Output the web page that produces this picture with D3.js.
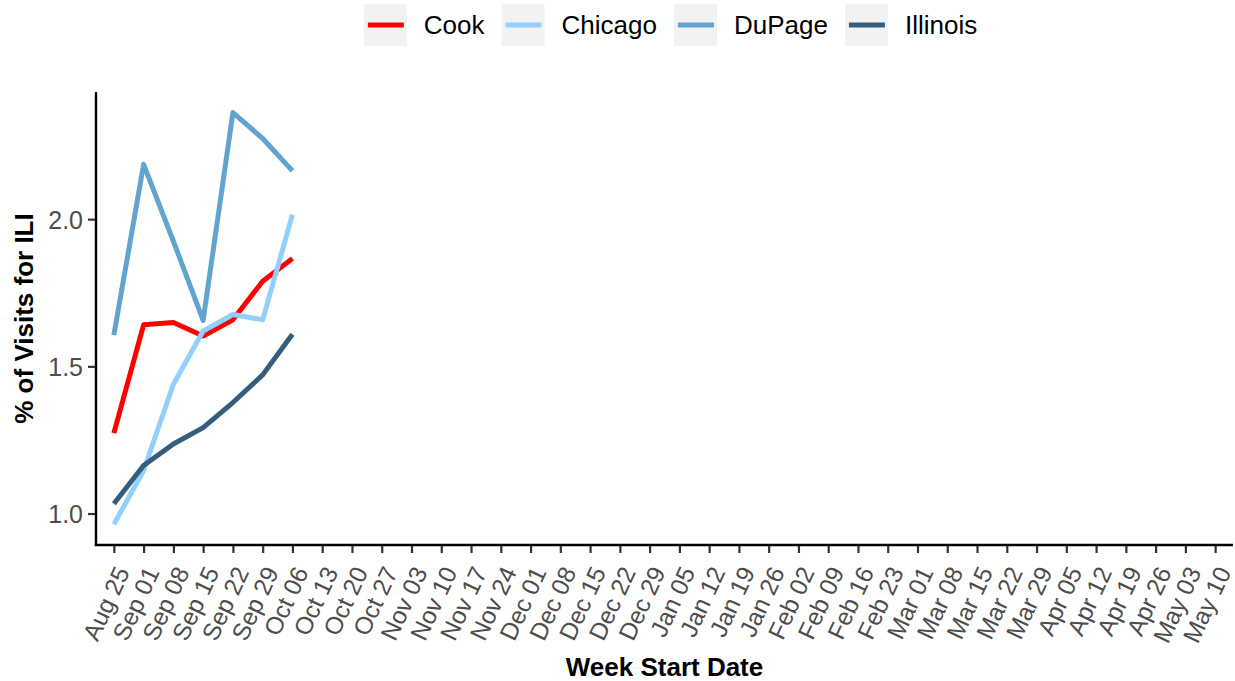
<!DOCTYPE html>
<html><head><meta charset="utf-8">
<script src="https://cdn.jsdelivr.net/npm/d3@7"></script>
<style>
body{margin:0;background:#fff}
svg{display:block}
text{font-family:"Liberation Sans",Arial,Helvetica,sans-serif}
</style>
</head><body>
<svg id="c" width="1235" height="681"></svg>
<script>
const weeks = ["Aug 25","Sep 01","Sep 08","Sep 15","Sep 22","Sep 29","Oct 06","Oct 13","Oct 20","Oct 27",
  "Nov 03","Nov 10","Nov 17","Nov 24","Dec 01","Dec 08","Dec 15","Dec 22","Dec 29","Jan 05","Jan 12",
  "Jan 19","Jan 26","Feb 02","Feb 09","Feb 16","Feb 23","Mar 01","Mar 08","Mar 15","Mar 22","Mar 29",
  "Apr 05","Apr 12","Apr 19","Apr 26","May 03","May 10"];
const observedWeeks = ["Aug 25","Sep 01","Sep 08","Sep 15","Sep 22","Sep 29","Oct 06"];
const cook     = [1.273,1.641,1.649,1.603,1.658,1.789,1.866];
const chicago  = [0.963,1.146,1.439,1.620,1.676,1.658,2.015];
const dupage   = [1.606,2.186,1.925,1.656,2.362,2.274,2.164];
const illinois = [1.033,1.163,1.236,1.292,1.377,1.471,1.609];
const seriesNames  = ["Cook","Chicago","DuPage","Illinois"];
const seriesColors = ["#FF0000","#91D0FE","#62A3D0","#355E7E"];
const yTicks = [1.0,1.5,2.0];

const series = [cook, chicago, dupage, illinois].map((vals,i)=>({
  name: seriesNames[i], color: seriesColors[i],
  pts: vals.map((v,j)=>({w: observedWeeks[j], v}))
}));

const svg = d3.select("#c");
const L = 96, R = 1233, T = 92, B = 545;

const x = d3.scalePoint().domain(weeks).range([L, R]).padding(0.6);
const all = [].concat(cook, chicago, dupage, illinois);
const mn = d3.min(all), mx = d3.max(all), pad = (mx - mn) * 0.05;
const y = d3.scaleLinear().domain([mn - pad, mx + pad]).range([B, T]);

// lines
const line = d3.line().x(d=>x(d.w)).y(d=>y(d.v));
svg.append("g").selectAll("path").data(series).join("path")
  .attr("d", d=>line(d.pts)).attr("fill","none")
  .attr("stroke", d=>d.color).attr("stroke-width", 5)
  .attr("stroke-linejoin","round").attr("stroke-linecap","butt");

// y axis
const gy = svg.append("g").attr("transform", `translate(${L},0)`)
  .call(d3.axisLeft(y).tickValues(yTicks).tickFormat(d3.format(".1f")).tickSize(8).tickSizeOuter(0));
gy.select(".domain").remove();
gy.selectAll(".tick line").attr("stroke","#333").attr("stroke-width",2.2);
gy.selectAll(".tick text").attr("font-size",25).attr("fill","#4D4D4D").attr("x",-13).attr("dy","0.36em")
  .attr("font-family",'"Liberation Sans",Arial,sans-serif');
svg.append("line").attr("x1",L).attr("x2",L).attr("y1",T).attr("y2",B+1)
  .attr("stroke","#000").attr("stroke-width",2.4);

// x axis
const gx = svg.append("g").attr("transform", `translate(0,${B})`)
  .call(d3.axisBottom(x).tickSize(8).tickSizeOuter(0));
gx.select(".domain").remove();
gx.selectAll(".tick line").attr("stroke","#333").attr("stroke-width",2.2);
gx.selectAll(".tick text").attr("font-size",24.5).attr("fill","#4D4D4D")
  .attr("font-family",'"Liberation Sans",Arial,sans-serif')
  .attr("text-anchor","end").attr("dy",null).attr("y",null)
  .attr("transform","translate(16,27) rotate(-65)");
svg.append("line").attr("x1",L-1.2).attr("x2",R).attr("y1",B).attr("y2",B)
  .attr("stroke","#000").attr("stroke-width",2.4);

// axis titles
svg.append("text").attr("x",(L+R)/2).attr("y",676).attr("text-anchor","middle")
  .attr("font-size",26).attr("font-weight","bold").attr("fill","#000").text("Week Start Date");
svg.append("text").attr("transform",`translate(33,${(T+B)/2}) rotate(-90)`).attr("text-anchor","middle")
  .attr("font-size",26).attr("font-weight","bold").attr("fill","#000").text("% of Visits for ILI");

// legend
const lg = svg.append("g");
const keyW = 43, keyH = 42, gapKT = 17, gapItem = 17;
let cx = 0;
series.forEach(s=>{
  const g = lg.append("g");
  g.append("rect").attr("x",0).attr("y",0).attr("width",keyW).attr("height",keyH).attr("fill","#F2F2F2");
  g.append("line").attr("x1",4).attr("x2",keyW-3).attr("y1",keyH/2).attr("y2",keyH/2)
    .attr("stroke",s.color).attr("stroke-width",5);
  const t = g.append("text").attr("x",keyW+gapKT).attr("y",keyH/2).attr("dy","0.36em")
    .attr("font-size",26).attr("fill","#000").text(s.name);
  const w = keyW + gapKT + t.node().getComputedTextLength();
  g.attr("transform",`translate(${cx},0)`);
  cx += w + gapItem;
});
const totalW = cx - gapItem;
lg.attr("transform",`translate(${(L+R)/2 - totalW/2 + 6},4)`);
</script>
</body></html>
